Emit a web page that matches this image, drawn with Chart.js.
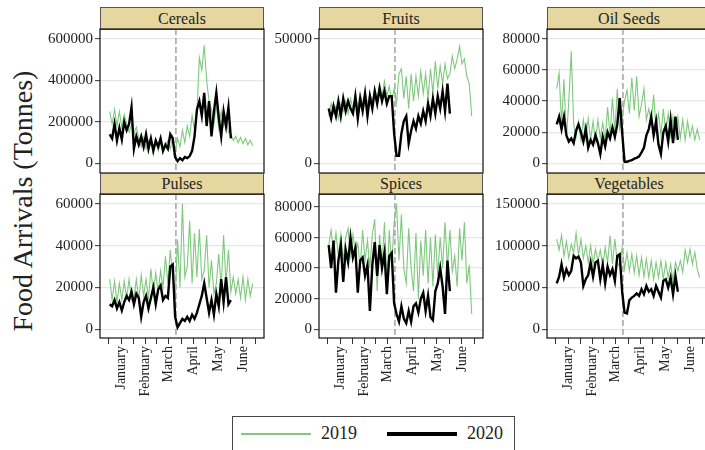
<!DOCTYPE html>
<html>
<head>
<meta charset="utf-8">
<script src="https://cdn.jsdelivr.net/npm/chart.js@4.4.1/dist/chart.umd.min.js"></script>
<style>
  body { margin: 0; width: 705px; height: 450px; overflow: hidden; position: relative; background: #fff; font-family: "Liberation Serif", serif; color: #222; }
  canvas { position: absolute; }
  .strip { position: absolute; box-sizing: border-box; background: #e6d7a0; border: 1px solid #555; text-align: center; font-size: 16px; }
  #ytitle { position: absolute; left: 23px; top: 201px; transform: translate(-50%, -50%) rotate(-90deg); white-space: nowrap; font-size: 28px; }
  #legend { position: absolute; left: 232px; top: 416px; width: 283px; height: 40px; box-sizing: border-box; border: 1px solid #444; }
  .key { position: absolute; top: 16px; width: 70px; }
  .lab { position: absolute; top: 6px; font-size: 18px; }
</style>
</head>
<body>
<div id="ytitle">Food Arrivals (Tonnes)</div>
<div id="legend">
  <div class="key" style="left:8px; height:2px; background:#7fc97f;"></div>
  <div class="lab" style="left:88px;">2019</div>
  <div class="key" style="left:154px; top:15px; height:4px; background:#000;"></div>
  <div class="lab" style="left:234px;">2020</div>
</div>
<script>
// day of year (Jan 1 = 0)
const days2019 = [1, 4, 7, 10, 13, 16, 19, 22, 25, 28, 31, 34, 37, 40, 43, 46, 49, 52, 55, 58,
  61, 64, 67, 70, 73, 76, 79, 82, 85, 88, 91, 94, 97, 100, 103, 106, 109, 112, 115, 118,
  121, 124, 127, 130, 133, 136, 139, 142, 145, 148, 151, 154, 157, 160, 163, 166, 169, 172, 175, 178];
const days2020 = [1, 4, 7, 10, 13, 16, 19, 22, 25, 28, 31, 34, 37, 40, 43, 46, 49, 52, 55, 58,
  61, 64, 67, 70, 73, 76, 79, 82, 85, 88, 91, 94, 97, 100, 103, 106, 109, 112, 115, 118,
  121, 124, 127, 130, 133, 136, 139, 142, 145, 148, 151];

const tickDays = [0, 15, 31, 45, 59, 74, 90, 105, 120, 135, 151, 166, 181];
const tickLabels = ["", "January", "", "February", "", "March", "", "April", "", "May", "", "June", ""];
const lockdownDay = 83;

const cereals2019 = [250000, 190000, 260000, 180000, 250000, 170000, 235000, 190000, 150000, 185000,
  145000, 175000, 120000, 80000, 125000, 70000, 110000, 120000, 70000, 110000,
  60000, 100000, 60000, 90000, 110000, 70000, 130000, 60000, 120000, 80000,
  160000, 100000, 180000, 130000, 230000, 160000, 250000, 510000, 450000, 570000,
  400000, 300000, 260000, 190000, 280000, 170000, 250000, 180000, 230000, 150000,
  140000, 110000, 130000, 100000, 125000, 95000, 120000, 90000, 110000, 85000];
const cereals2020 = [140000, 120000, 190000, 110000, 170000, 115000, 200000, 160000, 190000, 270000,
  70000, 130000, 90000, 130000, 80000, 140000, 70000, 120000, 60000, 110000,
  80000, 120000, 60000, 90000, 70000, 140000, 120000, 30000, 10000, 25000,
  15000, 30000, 25000, 35000, 60000, 130000, 260000, 300000, 230000, 340000,
  180000, 300000, 130000, 250000, 340000, 220000, 130000, 250000, 180000, 270000,
  120000];
const cerealsTicks = [0, 200000, 400000, 600000];

const fruits2019 = [19000, 24000, 20000, 23000, 18000, 24000, 21000, 25000, 20000, 26000,
  22000, 27000, 23000, 28000, 24000, 29000, 24000, 28000, 25000, 30000,
  26000, 32000, 27000, 33000, 27000, 31000, 25000, 30000, 24000, 36000,
  38000, 26000, 35000, 22000, 36000, 25000, 35000, 27000, 37000, 28000,
  36000, 26000, 38000, 28000, 41000, 30000, 39000, 32000, 40000, 34000,
  36000, 43000, 38000, 42000, 47000, 40000, 42000, 35000, 32000, 19000];
const fruits2020 = [22000, 18000, 23000, 19000, 25000, 19000, 26000, 21000, 25000, 22000,
  20000, 27000, 18000, 26000, 21000, 28000, 19000, 27000, 22000, 29000,
  24000, 30000, 25000, 29000, 24000, 27000, 27000, 12000, 3000, 3000,
  12000, 17000, 19000, 8000, 13000, 17000, 14000, 19000, 16000, 21000,
  17000, 24000, 19000, 26000, 20000, 27000, 22000, 29000, 21000, 32000,
  20000];
const fruitsTicks = [0, 50000];

const oilseeds2019 = [48000, 58000, 25000, 54000, 16000, 40000, 72000, 25000, 17000, 27000,
  15000, 28000, 16000, 29000, 15000, 27000, 14000, 28000, 16000, 26000,
  15000, 36000, 18000, 42000, 20000, 48000, 22000, 30000, 40000, 47000,
  32000, 55000, 34000, 56000, 30000, 38000, 48000, 28000, 35000, 27000,
  44000, 22000, 32000, 18000, 35000, 20000, 32000, 18000, 30000, 17000,
  30000, 16000, 28000, 15000, 27000, 17000, 24000, 15000, 22000, 15000];
const oilseeds2020 = [25000, 30000, 22000, 30000, 18000, 14000, 16000, 13000, 21000, 25000,
  20000, 14000, 22000, 10000, 15000, 12000, 18000, 13000, 6000, 17000,
  11000, 20000, 16000, 23000, 17000, 25000, 42000, 20000, 1000, 1000,
  1500, 2000, 3000, 3500, 4500, 7000, 10000, 18000, 22000, 30000,
  18000, 27000, 12000, 6000, 20000, 24000, 14000, 28000, 13000, 30000,
  15000];
const oilseedsTicks = [0, 20000, 40000, 60000, 80000];

const pulses2019 = [24000, 14000, 23000, 13000, 22000, 14000, 23000, 15000, 24000, 14000,
  15000, 24000, 14000, 26000, 16000, 24000, 15000, 29000, 17000, 27000,
  18000, 28000, 20000, 35000, 22000, 38000, 25000, 14000, 43000, 20000,
  60000, 25000, 30000, 52000, 22000, 46000, 25000, 48000, 24000, 28000,
  45000, 20000, 33000, 17000, 22000, 36000, 20000, 45000, 22000, 38000,
  18000, 25000, 17000, 24000, 15000, 25000, 14000, 24000, 16000, 22000];
const pulses2020 = [12000, 11000, 14000, 10000, 13000, 9000, 13000, 16000, 14000, 18000,
  12000, 17000, 15000, 6000, 13000, 16000, 10000, 15000, 20000, 12000,
  19000, 21000, 14000, 16000, 15000, 30000, 31000, 6000, 1000, 3000,
  5000, 4000, 6000, 4000, 7000, 5000, 8000, 12000, 16000, 22000,
  15000, 8000, 14000, 7000, 17000, 11000, 24000, 13000, 25000, 12000,
  14000];
const pulsesTicks = [0, 20000, 40000, 60000];

const spices2019 = [55000, 65000, 50000, 63000, 48000, 62000, 45000, 60000, 66000, 48000,
  62000, 50000, 56000, 40000, 65000, 45000, 58000, 40000, 62000, 72000,
  25000, 62000, 40000, 70000, 30000, 65000, 40000, 70000, 82000, 45000,
  75000, 40000, 30000, 66000, 40000, 25000, 63000, 20000, 58000, 35000,
  65000, 30000, 60000, 28000, 62000, 35000, 60000, 40000, 70000, 40000,
  65000, 38000, 48000, 28000, 66000, 45000, 70000, 30000, 42000, 10000];
const spices2020 = [55000, 40000, 58000, 24000, 45000, 55000, 31000, 52000, 44000, 60000,
  47000, 53000, 24000, 45000, 47000, 35000, 42000, 12000, 42000, 57000,
  35000, 55000, 40000, 50000, 23000, 48000, 50000, 17000, 10000, 5000,
  15000, 7000, 4000, 12000, 5000, 15000, 17000, 11000, 20000, 24000,
  12000, 22000, 8000, 6000, 25000, 30000, 40000, 28000, 10000, 45000,
  25000];
const spicesTicks = [0, 20000, 40000, 60000, 80000];

const vegetables2019 = [108000, 95000, 113000, 88000, 105000, 85000, 102000, 92000, 115000, 88000,
  108000, 85000, 100000, 80000, 100000, 78000, 96000, 82000, 95000, 75000,
  98000, 80000, 112000, 78000, 108000, 80000, 75000, 98000, 72000, 92000,
  70000, 90000, 68000, 88000, 65000, 86000, 63000, 84000, 62000, 82000,
  60000, 80000, 62000, 82000, 60000, 80000, 62000, 78000, 58000, 80000,
  70000, 82000, 68000, 95000, 80000, 96000, 78000, 92000, 72000, 62000];
const vegetables2020 = [55000, 63000, 78000, 62000, 72000, 65000, 70000, 88000, 85000, 87000,
  80000, 52000, 60000, 65000, 80000, 63000, 80000, 82000, 60000, 77000,
  55000, 75000, 65000, 72000, 58000, 88000, 90000, 45000, 20000, 19000,
  35000, 38000, 40000, 43000, 40000, 48000, 42000, 52000, 45000, 48000,
  40000, 52000, 45000, 38000, 58000, 60000, 50000, 62000, 42000, 64000,
  45000];
const vegetablesTicks = [0, 50000, 100000, 150000];

const panels = [
  { name: "Cereals", a: cereals2019, b: cereals2020, ticks: cerealsTicks, min: -46800, max: 648300, col: 0, row: 0 },
  { name: "Fruits", a: fruits2019, b: fruits2020, ticks: fruitsTicks, min: -3900, max: 54000, col: 1, row: 0 },
  { name: "Oil Seeds", a: oilseeds2019, b: oilseeds2020, ticks: oilseedsTicks, min: -6240, max: 86400, col: 2, row: 0 },
  { name: "Pulses", a: pulses2019, b: pulses2020, ticks: pulsesTicks, min: -4170, max: 64800, col: 0, row: 1 },
  { name: "Spices", a: spices2019, b: spices2020, ticks: spicesTicks, min: -5690, max: 88500, col: 1, row: 1 },
  { name: "Vegetables", a: vegetables2019, b: vegetables2020, ticks: vegetablesTicks, min: -10400, max: 162000, col: 2, row: 1 }
];

// layout
const colLeft = [100, 319, 547];
const rowTop = [29, 194];
const stripTop = [7, 173];
const PLOT_W = 164, PLOT_H = 144;
const Y_W = 70, PAD_T = 14, PAD_R = 14, PAD_B = 14, X_H = 80;
const SERIF = "'Liberation Serif', 'Times New Roman', serif";

Chart.defaults.font.family = SERIF;

const panelDeco = {
  id: "panelDeco",
  beforeDatasetsDraw(chart) {
    const { ctx, chartArea: a, scales } = chart;
    const px = scales.x.getPixelForValue(lockdownDay);
    ctx.save();
    ctx.strokeStyle = "#8c8c8c";
    ctx.lineWidth = 1.2;
    ctx.setLineDash([6, 3]);
    ctx.beginPath();
    ctx.moveTo(px, a.top);
    ctx.lineTo(px, a.bottom);
    ctx.stroke();
    ctx.restore();
  },
  afterDraw(chart) {
    const { ctx, chartArea: a } = chart;
    ctx.save();
    ctx.strokeStyle = "#111";
    ctx.lineWidth = 1.2;
    ctx.strokeRect(a.left, a.top, a.right - a.left, a.bottom - a.top);
    ctx.restore();
  }
};

function toPoints(days, vals) {
  return vals.map((v, i) => ({ x: days[i], y: v }));
}

panels.forEach((p) => {
  const bottom = p.row === 1;
  const left = colLeft[p.col];
  const top = rowTop[p.row];

  const strip = document.createElement("div");
  strip.className = "strip";
  strip.textContent = p.name;
  strip.style.left = left + "px";
  strip.style.top = stripTop[p.row] + "px";
  strip.style.width = PLOT_W + "px";
  strip.style.height = (top - stripTop[p.row] + 1) + "px";
  strip.style.lineHeight = (top - stripTop[p.row] - 1) + "px";
  document.body.appendChild(strip);

  const canvas = document.createElement("canvas");
  const w = Y_W + PLOT_W + PAD_R;
  const h = PAD_T + PLOT_H + (bottom ? X_H : PAD_B);
  canvas.width = w;
  canvas.height = h;
  canvas.style.width = w + "px";
  canvas.style.height = h + "px";
  canvas.style.left = (left - Y_W) + "px";
  canvas.style.top = (top - PAD_T) + "px";
  document.body.appendChild(canvas);

  new Chart(canvas.getContext("2d"), {
    type: "line",
    data: {
      datasets: [{
        label: "2020",
        data: toPoints(days2020, p.b),
        borderColor: "#000",
        borderWidth: 2.4,
        pointRadius: 0
      }, {
        label: "2019",
        data: toPoints(days2019, p.a),
        borderColor: "#7fc97f",
        borderWidth: 1.1,
        pointRadius: 0
      }]
    },
    options: {
      responsive: false,
      animation: false,
      layout: { padding: { top: PAD_T, right: PAD_R, bottom: bottom ? 0 : PAD_B, left: 0 } },
      plugins: {
        legend: { display: false },
        tooltip: { enabled: false }
      },
      scales: {
        x: {
          type: "linear",
          min: -11,
          max: 192,
          display: bottom,
          afterBuildTicks: (s) => { s.ticks = tickDays.map((v) => ({ value: v })); },
          afterFit: (s) => { s.height = bottom ? X_H : 0; },
          grid: { drawOnChartArea: false, tickLength: 6, tickColor: "#333", tickWidth: 1 },
          border: { display: false },
          ticks: {
            autoSkip: false,
            minRotation: 90,
            maxRotation: 90,
            padding: 2,
            color: "#222",
            font: { family: SERIF, size: 14 },
            callback: (v, i) => tickLabels[i]
          }
        },
        y: {
          min: p.min,
          max: p.max,
          afterBuildTicks: (s) => { s.ticks = p.ticks.map((v) => ({ value: v })); },
          afterFit: (s) => { s.width = Y_W; },
          grid: { color: "#e6e6e6", lineWidth: 1.3, tickLength: 5, tickColor: "#333", tickWidth: 1 },
          border: { display: false },
          ticks: {
            padding: 2,
            color: "#222",
            font: { family: SERIF, size: 15 },
            callback: (v) => String(v)
          }
        }
      }
    },
    plugins: [panelDeco]
  });
});
</script>
</body>
</html>
